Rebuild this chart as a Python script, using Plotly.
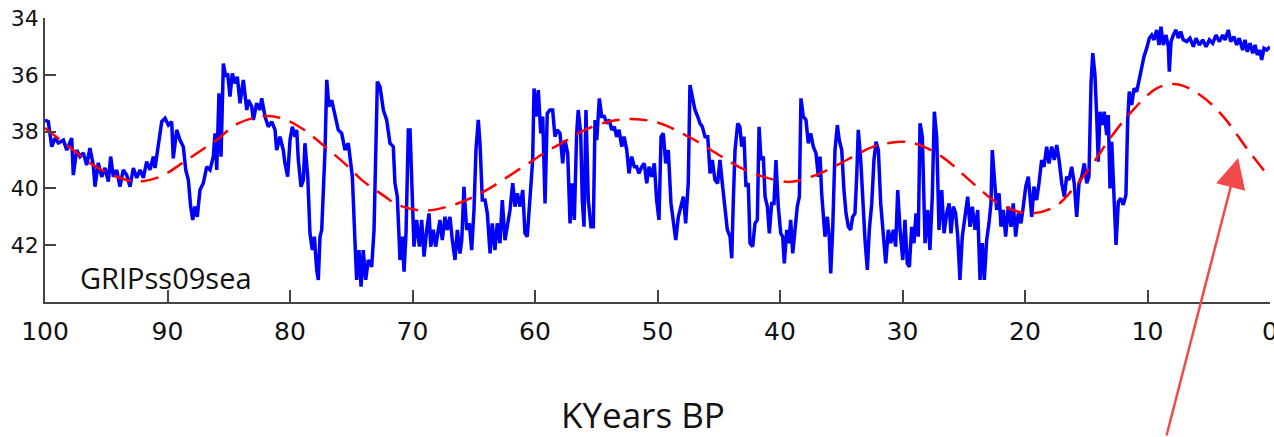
import plotly.graph_objects as go

# Blue record (KYears BP, value)
blue_x = [100.0, 99.73, 99.45, 99.18, 98.91, 98.5, 98.22, 97.82, 97.69, 97.41, 97.14, 96.87, 96.6, 96.33, 96.06,
          95.92, 95.65, 95.37, 95.1, 94.83, 94.64, 94.42, 94.15, 93.88, 93.61, 93.33, 93.06, 92.79, 92.51, 92.24,
          91.97, 91.7, 91.43, 91.16, 91.02, 90.75, 90.47, 90.2, 89.93, 89.66, 89.53, 89.25, 88.98, 88.71, 88.51,
          88.3, 88.11, 87.94, 87.76, 87.57, 87.35, 87.08, 86.8, 86.53, 86.26, 86.12, 85.98, 85.8, 85.63, 85.44,
          85.25, 85.09, 84.9, 84.71, 84.49, 84.3, 84.08, 83.81, 83.53, 83.4, 83.13, 82.99, 82.72, 82.45, 82.31,
          82.04, 81.77, 81.49, 81.22, 81.09, 80.82, 80.55, 80.41, 80.19, 80.0, 79.81, 79.59, 79.45, 79.32, 79.1,
          78.91, 78.78, 78.55, 78.37, 78.18, 78.01, 77.82, 77.69, 77.55, 77.41, 77.28, 77.14, 77.0, 76.82, 76.6,
          76.33, 76.06, 75.78, 75.51, 75.24, 75.1, 74.91, 74.69, 74.56, 74.37, 74.2, 74.02, 73.82, 73.61, 73.33,
          73.14, 73.0, 72.87, 72.65, 72.38, 72.11, 71.84, 71.57, 71.43, 71.24, 71.02, 70.83, 70.69, 70.53, 70.34,
          70.2, 70.07, 69.88, 69.66, 69.44, 69.25, 69.06, 68.84, 68.65, 68.51, 68.3, 68.11, 67.89, 67.76, 67.57,
          67.35, 67.16, 66.94, 66.75, 66.53, 66.34, 66.12, 65.98, 65.8, 65.58, 65.36, 65.17, 64.98, 64.82, 64.63,
          64.49, 64.3, 64.08, 63.89, 63.67, 63.49, 63.27, 63.08, 62.86, 62.67, 62.45, 62.26, 62.04, 61.82, 61.63,
          61.44, 61.22, 61.0, 60.82, 60.63, 60.41, 60.19, 60.08, 59.92, 59.73, 59.53, 59.37, 59.18, 59.0, 58.78,
          58.56, 58.37, 58.19, 57.96, 57.74, 57.55, 57.33, 57.14, 56.96, 56.79, 56.6, 56.47, 56.27, 56.14, 56.0,
          55.84, 55.65, 55.43, 55.24, 55.1, 54.96, 54.75, 54.55, 54.34, 54.15, 53.93, 53.74, 53.53, 53.33, 53.14,
          52.92, 52.73, 52.51, 52.33, 52.11, 51.89, 51.7, 51.51, 51.29, 51.08, 50.88, 50.69, 50.47, 50.26, 50.07,
          49.88, 49.71, 49.53, 49.33, 49.12, 48.9, 48.71, 48.51, 48.3, 48.08, 47.89, 47.7, 47.49, 47.35, 47.16,
          46.94, 46.72, 46.53, 46.34, 46.12, 45.9, 45.71, 45.53, 45.31, 45.09, 44.9, 44.71, 44.49, 44.3, 44.08,
          43.94, 43.81, 43.67, 43.45, 43.27, 43.13, 42.94, 42.78, 42.59, 42.45, 42.23, 42.04, 41.85, 41.71, 41.55,
          41.36, 41.22, 41.03, 40.87, 40.68, 40.49, 40.33, 40.14, 39.94, 39.78, 39.65, 39.45, 39.27, 39.13, 38.96,
          38.78, 38.59, 38.42, 38.29, 38.1, 37.88, 37.69, 37.5, 37.28, 37.06, 36.87, 36.73, 36.6, 36.47, 36.33,
          36.14, 35.98, 35.86, 35.7, 35.51, 35.32, 35.16, 34.96, 34.78, 34.61, 34.42, 34.23, 34.07, 33.88, 33.74,
          33.61, 33.41, 33.25, 33.06, 32.87, 32.71, 32.51, 32.33, 32.16, 31.97, 31.78, 31.57, 31.37, 31.16, 30.96,
          30.75, 30.56, 30.39, 30.2, 29.98, 29.8, 29.61, 29.44, 29.25, 29.06, 28.9, 28.71, 28.57, 28.38, 28.16,
          27.94, 27.76, 27.57, 27.4, 27.21, 27.02, 26.8, 26.61, 26.39, 26.2, 26.04, 25.85, 25.66, 25.49, 25.31,
          25.12, 24.9, 24.68, 24.49, 24.3, 24.08, 23.86, 23.67, 23.49, 23.32, 23.13, 22.94, 22.78, 22.67, 22.51,
          22.31, 22.12, 21.96, 21.77, 21.58, 21.36, 21.14, 20.96, 20.76, 20.55, 20.33, 20.14, 19.94, 19.73, 19.59,
          19.45, 19.27, 19.05, 18.86, 18.64, 18.45, 18.23, 18.04, 17.82, 17.61, 17.41, 17.22, 17.0, 16.79, 16.6,
          16.41, 16.19, 15.98, 15.78, 15.59, 15.37, 15.16, 14.96, 14.78, 14.61, 14.47, 14.29, 14.15, 14.02, 13.88,
          13.69, 13.53, 13.33, 13.2, 13.06, 12.92, 12.73, 12.57, 12.38, 12.19, 11.98, 11.76, 11.62, 11.49, 11.29,
          11.1, 10.88, 10.67, 10.47, 10.29, 10.07, 9.85, 9.66, 9.47, 9.25, 9.06, 8.9, 8.71, 8.49, 8.3,
          8.22, 8.08, 7.89, 7.67, 7.49, 7.29, 7.08, 6.8, 6.53, 6.26, 6.04, 5.77, 5.49, 5.22, 4.95,
          4.68, 4.41, 4.14, 3.86, 3.67, 3.4, 3.21, 2.94, 2.72, 2.51, 2.23, 2.04, 1.85, 1.63, 1.41,
          1.22, 1.04, 0.82, 0.68, 0.49, 0.27, 0.0]
blue_y = [37.59, 37.65, 38.53, 38.23, 38.4, 38.3, 38.65, 38.23, 39.53, 38.65, 38.88, 38.75, 39.18, 38.58, 39.18,
          39.94, 39.1, 39.59, 39.28, 39.76, 38.88, 39.59, 39.35, 39.94, 39.35, 39.53, 39.94, 39.28, 39.63, 39.35,
          39.63, 39.06, 39.35, 38.88, 39.28, 38.53, 37.65, 37.53, 37.77, 37.65, 38.94, 37.94, 38.3, 38.53, 39.35,
          39.7, 40.64, 41.11, 40.64, 41.0, 40.06, 39.82, 39.24, 39.35, 38.88, 38.06, 39.35, 36.65, 38.88, 35.6,
          36.07, 35.95, 36.77, 35.95, 36.3, 36.07, 37.0, 36.18, 37.24, 36.89, 37.12, 37.59, 37.0, 37.24, 36.83,
          37.47, 37.83, 37.65, 37.94, 38.65, 38.18, 38.65, 39.12, 39.59, 38.3, 37.83, 38.18, 37.94, 39.0, 39.94,
          39.7, 38.41, 39.59, 41.58, 42.17, 41.7, 42.87, 43.22, 41.7, 41.46, 40.17, 38.65, 36.18, 37.12, 36.89,
          37.47, 37.94, 38.06, 38.65, 38.41, 39.0, 39.59, 41.93, 43.22, 42.17, 43.46, 42.17, 43.22, 42.52, 42.76,
          41.46, 38.65, 36.24, 36.42, 37.24, 37.59, 38.41, 38.53, 39.82, 40.29, 42.52, 41.7, 42.93, 41.58, 37.94,
          37.94, 40.06, 42.05, 41.11, 42.05, 41.11, 42.4, 41.46, 40.88, 42.05, 41.46, 42.05, 41.46, 41.11, 41.82,
          41.0, 41.46, 41.0, 41.82, 42.52, 41.46, 42.29, 41.82, 39.94, 41.46, 41.23, 42.17, 40.76, 38.65, 37.59,
          38.41, 40.41, 40.41, 40.88, 42.29, 41.23, 42.17, 41.23, 41.93, 40.41, 41.82, 41.23, 40.76, 39.82, 40.64,
          40.17, 40.64, 40.06, 41.58, 41.7, 40.17, 39.0, 36.48, 37.47, 36.54, 38.06, 37.47, 40.53, 37.36, 37.24,
          37.24, 38.18, 37.94, 38.06, 39.12, 38.3, 38.77, 41.23, 39.82, 41.11, 38.06, 37.24, 38.06, 40.41, 41.35,
          37.24, 40.41, 41.35, 41.35, 37.59, 38.3, 36.83, 37.47, 37.47, 37.71, 37.59, 37.94, 37.83, 38.18, 37.94,
          38.53, 38.18, 38.65, 39.47, 38.88, 39.24, 39.24, 39.47, 39.24, 39.12, 39.82, 39.24, 39.59, 39.12, 40.41,
          41.11, 38.18, 38.06, 39.12, 38.65, 40.53, 41.11, 41.82, 41.0, 40.64, 40.29, 41.23, 39.82, 36.36, 36.77,
          37.24, 37.47, 37.71, 37.83, 38.18, 38.18, 39.47, 39.0, 39.7, 39.82, 39.0, 39.82, 40.88, 41.46, 41.7,
          42.46, 40.41, 38.65, 37.71, 37.83, 38.53, 38.18, 39.94, 39.82, 41.93, 42.05, 41.23, 41.11, 37.83, 39.0,
          38.88, 40.29, 40.64, 41.58, 40.53, 40.53, 39.0, 40.64, 41.58, 41.7, 42.64, 41.46, 41.93, 41.11, 42.29,
          41.46, 40.64, 40.29, 36.83, 37.47, 37.59, 38.41, 38.06, 38.53, 38.77, 39.59, 38.88, 40.17, 41.11, 41.7,
          41.0, 41.7, 42.99, 41.46, 38.65, 37.77, 38.3, 38.65, 40.06, 40.88, 41.35, 41.46, 41.0, 40.88, 39.59,
          37.94, 39.0, 40.53, 41.82, 42.87, 41.46, 40.53, 39.0, 38.36, 38.65, 40.53, 41.7, 42.64, 41.46, 41.93,
          41.46, 42.05, 40.06, 41.46, 42.52, 41.11, 42.64, 42.76, 41.35, 41.93, 40.88, 41.7, 37.71, 38.18, 41.93,
          40.76, 42.17, 40.29, 37.3, 38.18, 41.46, 40.06, 41.58, 40.88, 40.53, 41.58, 40.64, 40.88, 41.7, 43.22,
          41.7, 40.88, 40.29, 41.35, 40.64, 41.46, 40.76, 43.22, 41.93, 43.22, 41.82, 41.23, 40.53, 38.65, 39.59,
          40.76, 40.17, 41.35, 40.76, 41.7, 40.64, 41.35, 40.53, 41.7, 40.88, 41.23, 40.64, 39.94, 39.59, 40.53,
          41.0, 39.94, 40.41, 39.82, 39.0, 39.24, 38.53, 39.12, 38.53, 39.0, 38.47, 39.0, 39.82, 40.29, 39.59,
          39.7, 39.24, 39.82, 41.0, 39.82, 39.59, 39.12, 39.82, 39.59, 36.3, 35.24, 36.0, 37.42, 39.06, 37.3,
          37.77, 37.3, 38.12, 37.42, 40.0, 38.36, 40.0, 41.99, 40.47, 40.35, 40.58, 40.23, 37.65, 36.59, 37.06,
          36.48, 36.59, 36.12, 35.65, 35.36, 35.07, 34.71, 34.6, 34.77, 34.42, 34.95, 34.31, 34.95, 34.6, 35.01,
          35.89, 34.83, 34.6, 34.42, 34.71, 34.48, 34.77, 34.83, 34.71, 35.01, 34.71, 34.95, 34.77, 35.01, 34.77,
          34.89, 34.6, 34.83, 34.6, 34.77, 34.42, 34.83, 34.66, 34.95, 34.71, 35.13, 34.77, 35.19, 34.89, 35.24,
          34.95, 35.3, 35.13, 35.48, 35.07, 35.13, 35.01]

# Red dashed smooth curve
red_x = [100.0, 97.7, 96.06, 94.15, 92.5, 90.61, 88.43, 86.8, 86.0, 84.22, 82.04, 80.68, 79.05, 77.14, 75.24,
         74.15, 72.24, 71.29, 69.12, 66.67, 64.22, 60.98, 59.08, 57.14, 55.92, 54.02, 52.11, 49.94, 47.21, 44.76,
         42.86, 40.0, 38.91, 36.73, 34.55, 32.38, 30.2, 28.9, 26.8, 24.08, 22.18, 19.73, 17.55, 15.92, 14.5,
         13.06, 11.43, 9.25, 7.62, 5.71, 3.81, 1.9, 0.0]
red_y = [37.87, 38.65, 39.18, 39.59, 39.76, 39.59, 39.0, 38.53, 38.3, 37.71, 37.45, 37.53, 37.88, 38.53, 39.24,
         39.7, 40.29, 40.56, 40.78, 40.58, 40.12, 39.24, 38.71, 38.24, 37.94, 37.65, 37.56, 37.69, 38.24, 38.88,
         39.35, 39.74, 39.76, 39.47, 39.0, 38.53, 38.36, 38.43, 38.88, 39.88, 40.53, 40.88, 40.64, 39.94, 39.15,
         38.24, 37.36, 36.48, 36.33, 36.71, 37.47, 38.59, 39.64]

x_ticks = [100, 90, 80, 70, 60, 50, 40, 30, 20, 10, 0]
y_ticks = [34, 36, 38, 40, 42]

fig = go.Figure()
fig.add_trace(go.Scatter(x=blue_x, y=blue_y, mode="lines",
                         line=dict(color="#0000ff", width=3.5), hoverinfo="skip"))
fig.add_trace(go.Scatter(x=red_x, y=red_y, mode="lines",
                         line=dict(color="#ff0000", width=2.5, dash="18px,10px", shape="spline"),
                         hoverinfo="skip"))

fig.update_layout(
    width=1274, height=437,
    margin=dict(l=45, r=4, t=18, b=135, autoexpand=False),
    paper_bgcolor="white", plot_bgcolor="white",
    showlegend=False,
    xaxis=dict(range=[100, 0], tickvals=x_ticks, ticktext=[str(v) for v in x_ticks],
               automargin=False,
               ticks="inside", ticklen=12, tickwidth=1.5, tickcolor="#444",
               showline=True, linecolor="#444", linewidth=1.5, showgrid=False, zeroline=False,
               ticklabelstandoff=6, ticklabeloverflow="allow",
               tickfont=dict(family="DejaVu Sans", size=25, color="#111")),
    yaxis=dict(range=[44, 34], tickvals=y_ticks,
               automargin=False,
               ticks="inside", ticklen=11, tickwidth=1.5, tickcolor="#444",
               showline=True, linecolor="#444", linewidth=1.5, showgrid=False, zeroline=False,
               ticklabeloverflow="allow",
               tickfont=dict(family="DejaVu Sans", size=22, color="#111")),
    annotations=[
        dict(text="KYears BP", xref="paper", yref="paper", x=0.488, y=-0.395,
             xanchor="center", yanchor="middle", showarrow=False,
             font=dict(family="Open Sans", size=35, color="#111")),
        dict(text="GRIPss09sea", xref="x", yref="paper", x=97.3, y=0.085,
             xanchor="left", yanchor="middle", showarrow=False,
             font=dict(family="Open Sans", size=29, color="#111")),
        dict(text="", x=2.6, y=38.93, xref="x", yref="y", showarrow=True,
             ax=-72, ay=279, arrowhead=2, arrowsize=2.4, arrowwidth=2.5,
             arrowcolor="#f24a4a"),
    ],
)

# remove the default 8px body margin and clip anything past the figure edge,
# so the 1274x437 figure fills the window exactly (the "0" label is cut like in the original)
fig.write_html(
    "out.html",
    config={"displayModeBar": False},
    post_script=(
        "document.documentElement.style.overflow='hidden';"
        "document.body.style.margin='0';document.body.style.overflow='hidden';"
        "var gd=document.getElementById('{plot_id}');"
        "gd.style.overflow='hidden';gd.style.width='1274px';gd.style.height='437px';"
    ),
)
